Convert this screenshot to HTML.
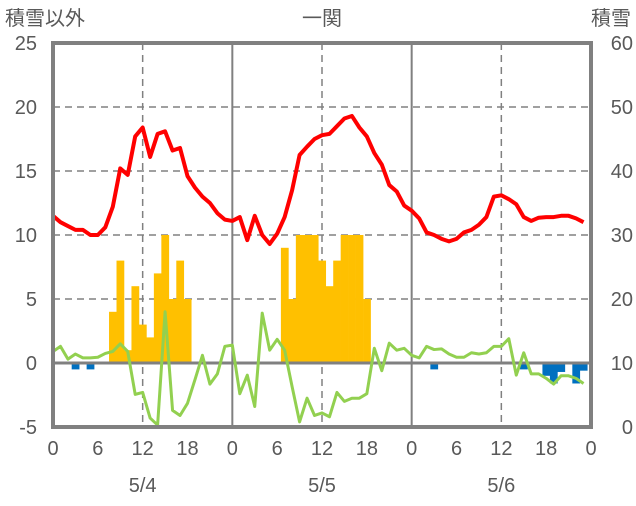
<!DOCTYPE html>
<html><head><meta charset="utf-8">
<style>
body{margin:0;background:#fff;}
svg text{font-family:"Liberation Sans","Noto Sans CJK JP",sans-serif;fill:#595959;}
</style></head>
<body>
<svg id="chart" width="636" height="501" viewBox="0 0 636 501" xmlns="http://www.w3.org/2000/svg">
<g id="grid"></g>
<g id="bars"></g>
<g id="lines"></g>
<g id="frame"></g>
<g id="labels"></g>
<text x="5" y="25" font-size="20">積雪以外</text>
<text x="322" y="25" font-size="20" text-anchor="middle">一関</text>
<text x="631" y="25" font-size="20" text-anchor="end">積雪</text>
</svg>
<script>
const leftTicks=[25,20,15,10,5,0,-5];
const rightTicks=[60,50,40,30,20,10,0];
const hourTicks=[0,6,12,18,0,6,12,18,0,6,12,18,0];
const dateLabels=["5/4","5/5","5/6"];
const temperature=[11.5,11.0,10.7,10.4,10.4,10.0,10.0,10.6,12.2,15.2,14.7,17.7,18.4,16.1,17.9,18.1,16.6,16.8,14.6,13.7,13.0,12.5,11.7,11.2,
11.1,11.4,9.6,11.5,10.0,9.3,10.1,11.4,13.5,16.25,16.9,17.5,17.8,17.9,18.5,19.1,19.3,18.4,17.7,16.4,15.5,13.9,13.4,12.3,
11.9,11.3,10.2,10.0,9.7,9.5,9.7,10.2,10.4,10.8,11.4,13.0,13.1,12.8,12.4,11.4,11.1,11.35,11.4,11.4,11.5,11.5,11.3,11.0];
const greenSeries=[0.9,1.3,0.3,0.7,0.4,0.4,0.45,0.75,0.9,1.5,0.9,-2.45,-2.3,-4.3,-4.85,4.0,-3.7,-4.1,-3.15,-1.3,0.6,-1.65,-0.85,1.3,
1.4,-2.4,-0.95,-3.4,3.9,1.0,1.85,1.0,-1.85,-4.6,-2.75,-4.1,-3.9,-4.2,-2.3,-3.0,-2.75,-2.75,-2.4,1.15,-0.6,1.55,1.0,1.15,
0.6,0.4,1.3,1.05,1.1,0.7,0.45,0.45,0.8,0.7,0.8,1.3,1.3,1.9,-0.95,0.8,-0.85,-0.85,-1.2,-1.65,-1.0,-1.0,-1.2,-1.6];
const precipHours=[8,9,10,11,12,13,14,15,16,17,18,31,32,33,34,35,36,37,38,39,40,41,42];
const precipValues=[4,8,1,6,3,2,7,10,5,8,5,9,5,10,10,10,8,6,8,10,10,10,5];
const snowChangeHours=[3,5,51,63,66,67,68,70,71];
const snowChangeValues=[-0.5,-0.5,-0.5,-0.5,-1.0,-1.6,-0.7,-1.6,-0.6];

const X0=53,X1=591,Y0=43,Y1=427,HOURS=72;
const xs=h=>X0+h*(X1-X0)/HOURS;
const ys=v=>Y1-(v-(-5))*(Y1-Y0)/30;
const NS="http://www.w3.org/2000/svg";
function mk(tag,attrs,parent){const e=document.createElementNS(NS,tag);for(const k in attrs)e.setAttribute(k,attrs[k]);document.getElementById(parent).appendChild(e);return e;}

// grid
[20,15,10,5].forEach(v=>{
 const l=mk('line',{x1:X0,x2:X1,y1:ys(v),y2:ys(v),stroke:'#808080','stroke-width':1.5,'stroke-dasharray':'7,5'},'grid');
 
 
});
[12,36,60].forEach(h=>{
 const l=mk('line',{x1:xs(h),x2:xs(h),y1:Y0,y2:Y1,stroke:'#808080','stroke-width':1.5,'stroke-dasharray':'7,5'},'grid');
 
 
});
[24,48].forEach(h=>{
 const l=mk('line',{x1:xs(h),x2:xs(h),y1:Y0,y2:Y1,stroke:'#808080','stroke-width':2},'grid');
 
 
});
// bars
const bw=(X1-X0)/HOURS;
precipHours.forEach((h,i)=>{
 const v=precipValues[i];
 const r=mk('rect',{x:xs(h)-bw/2,y:ys(v),width:bw+0.3,height:ys(0)-ys(v),fill:'#FFC000'},'bars');
 
 
});
snowChangeHours.forEach((h,i)=>{
 const v=snowChangeValues[i];
 const r=mk('rect',{x:xs(h)-bw/2,y:ys(0),width:bw+0.3,height:ys(v)-ys(0),fill:'#0070C0'},'bars');
 
 
});
// zero line
const z=mk('line',{x1:X0,x2:X1,y1:ys(0),y2:ys(0),stroke:'#808080','stroke-width':3},'lines');


// lines
const g=mk('polyline',{points:greenSeries.map((v,h)=>xs(h)+','+ys(v)).join(' '),fill:'none',stroke:'#92D050','stroke-width':3,'stroke-linejoin':'round'},'lines');


const t=mk('polyline',{points:temperature.map((v,h)=>xs(h)+','+ys(v)).join(' '),fill:'none',stroke:'#FF0000','stroke-width':4,'stroke-linejoin':'round'},'lines');


// frame
const f=mk('rect',{x:X0,y:Y0,width:X1-X0,height:Y1-Y0,fill:'none',stroke:'#808080','stroke-width':4},'frame');


// labels
leftTicks.forEach(v=>{
 const e=mk('text',{x:37,y:ys(v)+7,'font-size':20,'text-anchor':'end'},'labels');e.textContent=v;
 
 
});
rightTicks.forEach(v=>{
 const e=mk('text',{x:633,y:Y1-v*(Y1-Y0)/60+7,'font-size':20,'text-anchor':'end'},'labels');e.textContent=v;
 
 
});
hourTicks.forEach((v,i)=>{
 const e=mk('text',{x:xs(i*6),y:455,'font-size':20,'text-anchor':'middle'},'labels');e.textContent=v;
 
 
});
dateLabels.forEach((d,i)=>{
 const e=mk('text',{x:xs(i*24+12),y:492,'font-size':20,'text-anchor':'middle'},'labels');e.textContent=d;
 
 
});
</script>
</body></html>
